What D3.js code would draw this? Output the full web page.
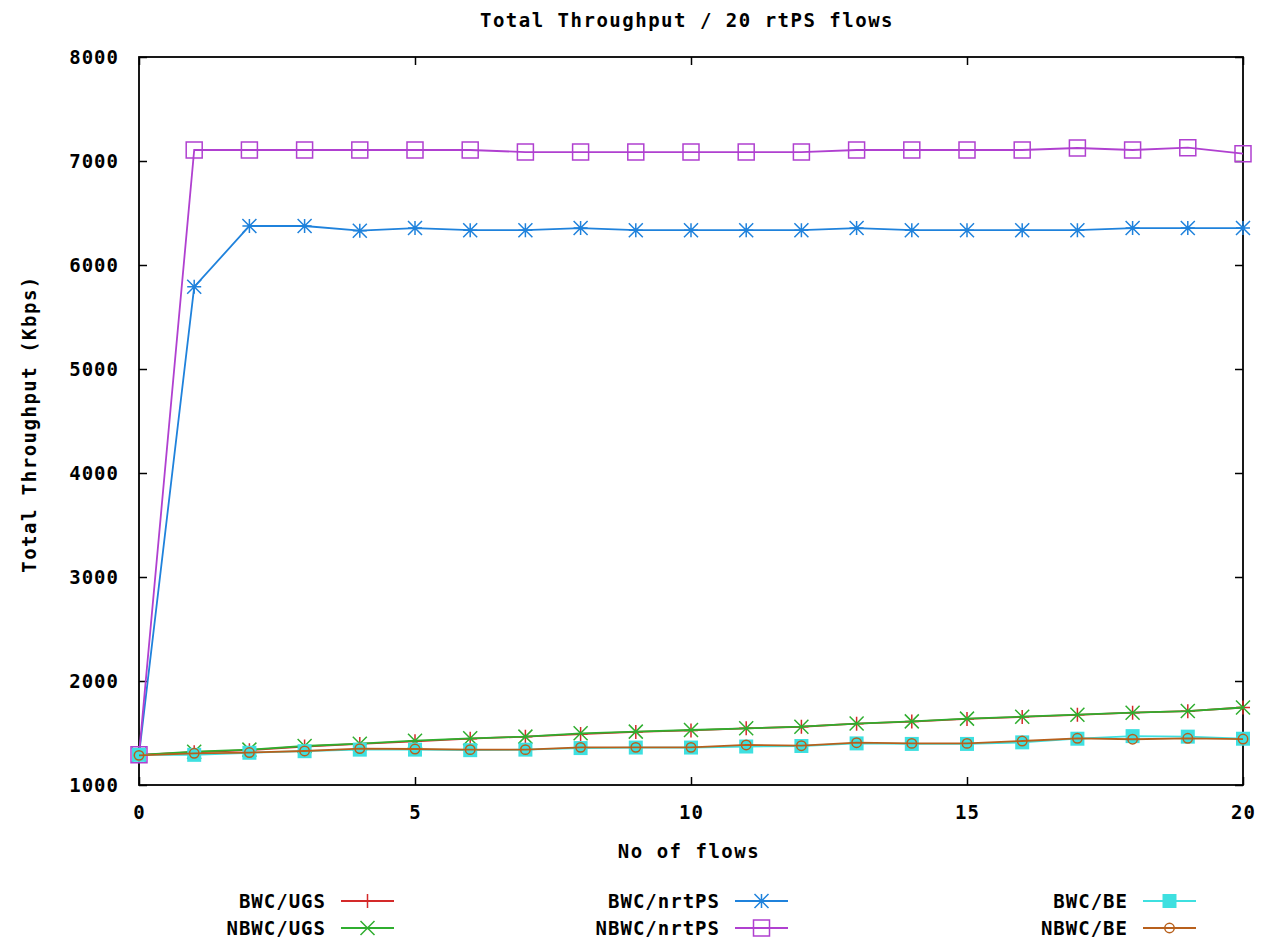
<!DOCTYPE html>
<html><head><meta charset="utf-8">
<script src="https://cdn.jsdelivr.net/npm/d3@7"></script>
<style>
html,body{margin:0;padding:0;background:#fff;}
text{font-family:"DejaVu Sans Mono",monospace;font-weight:bold;fill:#000;}
</style></head>
<body>
<svg id="chart" width="1264" height="941"></svg>
<script>
const flows = d3.range(0, 21);
const bwcUGS    = [1290,1315,1335,1370,1395,1420,1445,1465,1490,1510,1525,1545,1560,1590,1610,1635,1655,1675,1695,1710,1745];
const nbwcUGS   = [1290,1320,1340,1375,1397,1426,1449,1465,1497,1513,1529,1545,1561,1591,1612,1638,1657,1676,1695,1711,1745];
const bwcNrtPS  = [1290,5790,6375,6375,6330,6355,6335,6335,6355,6335,6335,6335,6335,6355,6335,6335,6335,6335,6355,6355,6355];
const nbwcNrtPS = [1290,7106,7106,7106,7106,7106,7106,7086,7086,7086,7086,7086,7086,7106,7106,7106,7106,7125,7106,7128,7070];
const bwcBE     = [1290,1290,1310,1325,1340,1340,1335,1340,1355,1360,1360,1370,1375,1400,1395,1395,1410,1445,1470,1465,1445];
const nbwcBE    = [1285,1305,1312,1327,1350,1346,1340,1340,1362,1362,1362,1385,1378,1407,1400,1400,1423,1449,1440,1449,1442];
const xTicks = [0,5,10,15,20];
const yTicks = [1000,2000,3000,4000,5000,6000,7000,8000];
const title = "Total Throughput / 20 rtPS flows";
const xLabel = "No of flows";
const yLabel = "Total Throughput (Kbps)";

const series = [
  {name:"BWC/UGS",    values:bwcUGS,    color:"#d42a2a", marker:"plus"},
  {name:"NBWC/UGS",   values:nbwcUGS,   color:"#2fae2f", marker:"cross"},
  {name:"BWC/nrtPS",  values:bwcNrtPS,  color:"#1f82dc", marker:"star"},
  {name:"NBWC/nrtPS", values:nbwcNrtPS, color:"#b040d0", marker:"square"},
  {name:"BWC/BE",     values:bwcBE,     color:"#3ee0e0", marker:"fsquare"},
  {name:"NBWC/BE",    values:nbwcBE,    color:"#b8601c", marker:"circle"}
];

const svg = d3.select("#chart");
const L=139, R=1243, T=57, B=785;
const x = d3.scaleLinear().domain([0,20]).range([L,R]);
const y = d3.scaleLinear().domain([1000,8000]).range([B,T]);
const ls = "1.5px";

svg.append("text").attr("x",687).attr("y",27).attr("text-anchor","middle")
  .style("font-size","19px").style("letter-spacing",ls).text(title);

const tl = 8;
svg.append("g").attr("transform",`translate(0,${B})`)
  .call(d3.axisBottom(x).tickValues(xTicks).tickSize(-tl).tickPadding(21).tickFormat(d3.format("d")))
  .call(g=>{g.select(".domain").remove(); g.selectAll("line").attr("stroke","#000").attr("stroke-width",1.5);
    g.selectAll("text").style("font-size","19px").style("font-family","DejaVu Sans Mono").style("font-weight","bold");});
svg.append("g").attr("transform",`translate(0,${T})`)
  .call(d3.axisTop(x).tickValues(xTicks).tickSize(-tl).tickFormat(""))
  .call(g=>{g.select(".domain").remove(); g.selectAll("line").attr("stroke","#000").attr("stroke-width",1.5);});
svg.append("g").attr("transform",`translate(${L},0)`)
  .call(d3.axisLeft(y).tickValues(yTicks).tickSize(-tl).tickPadding(20).tickFormat(d3.format("d")))
  .call(g=>{g.select(".domain").remove(); g.selectAll("line").attr("stroke","#000").attr("stroke-width",1.5);
    g.selectAll("text").style("font-size","19px").style("font-family","DejaVu Sans Mono").style("font-weight","bold");});
svg.append("g").attr("transform",`translate(${R},0)`)
  .call(d3.axisRight(y).tickValues(yTicks).tickSize(-tl).tickFormat(""))
  .call(g=>{g.select(".domain").remove(); g.selectAll("line").attr("stroke","#000").attr("stroke-width",1.5);});
svg.selectAll(".tick text").style("letter-spacing","1px");

svg.append("rect").attr("x",L).attr("y",T).attr("width",R-L).attr("height",B-T)
  .attr("fill","none").attr("stroke","#000").attr("stroke-width",1.8);

svg.append("text").attr("x",689).attr("y",858).attr("text-anchor","middle")
  .style("font-size","19px").style("letter-spacing",ls).text(xLabel);
svg.append("text").attr("transform","translate(36,424) rotate(-90)").attr("text-anchor","middle")
  .style("font-size","19px").style("letter-spacing",ls).text(yLabel);

function markerPath(type){
  const s=7;
  switch(type){
    case "plus": return `M${-s},0H${s}M0,${-s}V${s}`;
    case "cross": return `M${-s},${-s}L${s},${s}M${-s},${s}L${s},${-s}`;
    case "star": return `M${-s},0H${s}M0,${-s}V${s}M${-s},${-s}L${s},${s}M${-s},${s}L${s},${-s}`;
    case "square": return `M-8,-8H8V8H-8Z`;
    case "fsquare": return `M${-s},${-s}H${s}V${s}H${-s}Z`;
    case "circle": return d3.symbol(d3.symbolCircle, 70)();
  }
}

const line = d3.line().x((d,i)=>x(flows[i])).y(d=>y(d));
const plot = svg.append("g");
series.forEach(s=>{
  const g = plot.append("g");
  g.append("path").attr("d",line(s.values)).attr("fill","none")
    .attr("stroke",s.color).attr("stroke-width",1.8);
  g.selectAll("path.m").data(s.values).join("path").attr("class","m")
    .attr("transform",(d,i)=>`translate(${x(flows[i])},${y(d)})`)
    .attr("d",markerPath(s.marker))
    .attr("fill",s.marker==="fsquare"?s.color:"none")
    .attr("stroke",s.color).attr("stroke-width",s.marker==="fsquare"?0:1.5);
});

const cols=[{tx:326,lx:341},{tx:720,lx:735},{tx:1128,lx:1143}];
const rows=[901,928];
series.forEach((s,i)=>{
  const c=cols[Math.floor(i/2)], ry=rows[i%2];
  const g=svg.append("g");
  g.append("text").attr("x",c.tx).attr("y",ry+7).attr("text-anchor","end")
    .style("font-size","19px").style("letter-spacing","1px").text(s.name);
  g.append("line").attr("x1",c.lx).attr("x2",c.lx+53).attr("y1",ry).attr("y2",ry)
    .attr("stroke",s.color).attr("stroke-width",1.8);
  g.append("path").attr("transform",`translate(${c.lx+26.5},${ry})`).attr("d",markerPath(s.marker))
    .attr("fill",s.marker==="fsquare"?s.color:"none")
    .attr("stroke",s.color).attr("stroke-width",s.marker==="fsquare"?0:1.5);
});
</script>
</body></html>
